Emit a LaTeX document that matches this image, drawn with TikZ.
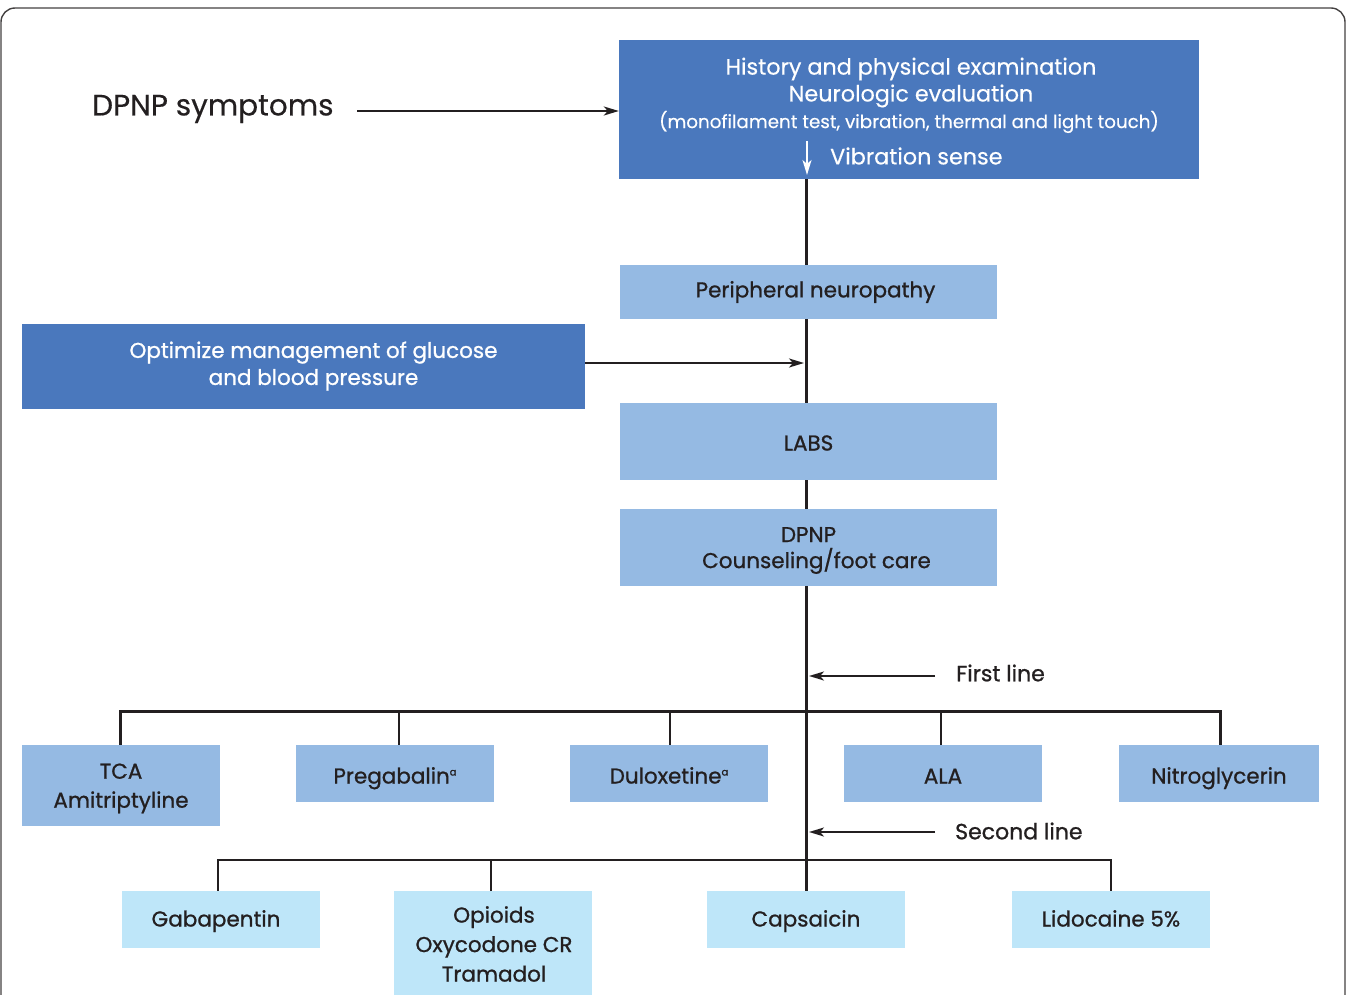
\documentclass[tikz,border=0pt]{standalone}
\usepackage{fontspec}
\setmainfont{Poppins}[FakeBold=0.35]
\newfontfamily\medfont{Poppins}[FakeBold=0.9]
\usetikzlibrary{arrows.meta}
\definecolor{dblue}{HTML}{4A78BD}
\definecolor{mblue}{HTML}{95BAE3}
\definecolor{lblue}{HTML}{BEE6F9}
\definecolor{ink}{HTML}{231F20}
\newcommand{\fs}[2]{\fontsize{#1}{#2}\selectfont}
\newcommand{\supa}{\raisebox{8pt}[0pt][0pt]{\fs{10}{10}a}}
\newcommand{\lowr}{\rule{0pt}{21pt}}
\begin{document}
\begin{tikzpicture}[x=1pt,y=-1pt,
  dbox/.style={fill=dblue, text=white, inner sep=0pt, align=center},
  mbox/.style={fill=mblue, text=ink, inner sep=0pt, align=center, font=\medfont\fs{21.5}{29}},
  lbox/.style={fill=lblue, text=ink, inner sep=0pt, align=center, font=\medfont\fs{21.5}{29}},
  rowbox/.style={minimum width=198, minimum height=57},
  rowone/.style={text height=20pt, text depth=0pt},
  rowtwo/.style={text height=14pt, text depth=0pt},
  plain/.style={text=ink, inner sep=0pt},
  mainline/.style={draw=ink, line width=3pt},
  branch/.style={draw=ink, line width=2.4pt},
  arr/.style={draw=ink, line width=2pt, -{Stealth[length=15pt,width=9pt,inset=4pt]}},
  warr/.style={draw=white, line width=2pt, -{Stealth[length=15pt,width=9pt,inset=4pt]}}
]
\useasboundingbox (0,0) rectangle (1350,995);
\clip (0,0) rectangle (1350,995);
\fill[white] (0,0) rectangle (1350,995);
% frame
\draw[draw=ink!85, line width=1.4pt, rounded corners=14pt] (1,1010) -- (1,8) -- (1345,8) -- (1345,1010);

% top box
\node[dbox, minimum width=580, minimum height=139] (hist) at (909,109.5) {};
\node[plain, text=white, font=\fs{22.3}{27}] (h1) at (911,69) {History and physical examination};
\node[plain, text=white, font=\fs{22.3}{27}] (h2) at (911,96) {Neurologic evaluation};
\node[plain, text=white, font=\fs{18.3}{20}] (h3) at (909,122) {(monofilament test, vibration, thermal and light touch)};
\node[plain, text=white, font=\fs{22.3}{27}, anchor=west] (vs) at (830,156) {Vibration sense};
\coordinate (va) at (807,141);
\coordinate (vb) at (807,175);
\draw[warr] (va) -- (vb);

\node[plain, font=\fs{29.5}{34}, anchor=west] (sym) at (92,109) {DPNP symptoms};

% middle boxes
\node[mbox, minimum width=377, minimum height=54] (pn) at (808.5,292) {\hspace*{14pt}Peripheral neuropathy};
\node[dbox, minimum width=563, minimum height=85, font=\medfont\fs{21.5}{27}] (opt) at (303.5,366) {\hspace*{20pt}Optimize management of glucose\\\hspace*{20pt}and blood pressure};
\node[mbox, minimum width=377, minimum height=77, text height=18pt, text depth=0pt] (labs) at (808.5,441.5) {LABS};
\node[mbox, minimum width=377, minimum height=77, font=\medfont\fs{21.5}{26}] (dpnp) at (808.5,547.5) {\lowr DPNP\\\hspace*{16pt}Counseling/foot care};

% first line row
\node[mbox, rowbox, minimum height=81] (tca) at (121,785.5) {\lowr TCA\\Amitriptyline};
\node[mbox, rowbox, rowone] (preg) at (395,773.5) {Pregabalin\supa};
\node[mbox, rowbox, rowone] (dulo) at (669,773.5) {Duloxetine\supa};
\node[mbox, rowbox, rowone] (ala) at (943,773.5) {ALA};
\node[mbox, rowbox, rowone, minimum width=200] (nitro) at (1219,773.5) {Nitroglycerin};

% second line row
\node[lbox, rowbox, rowtwo] (gaba) at (221,919.5) {\hspace*{-10pt}Gabapentin};
\node[lbox, rowbox, minimum height=110, anchor=north] (opio) at (493,891) {};
\node[plain, align=center, font=\medfont\fs{21.5}{29.5}, anchor=north] (opiot) at (494,906) {Opioids\\Oxycodone CR\\Tramadol};
\node[lbox, rowbox, rowtwo] (caps) at (806,919.5) {Capsaicin};
\node[lbox, rowbox, rowtwo] (lido) at (1111,919.5) {Lidocaine 5\%};

% labels
\node[plain, font=\medfont\fs{22}{26}, anchor=west] (fl) at (956,673) {First line};
\node[plain, font=\medfont\fs{22}{26}, anchor=west] (sl) at (955,831) {Second line};

% bus coordinates
\coordinate (b1) at (807,711);
\coordinate (b2) at (807,860);

% main vertical line
\draw[mainline] (caps.north |- hist.south) -- (caps.north |- pn.north);
\draw[mainline] (caps.north |- pn.south) -- (caps.north |- labs.north);
\draw[mainline] (caps.north |- labs.south) -- (caps.north |- dpnp.north);
\draw[mainline] (caps.north |- dpnp.south) -- (caps.north);

% first line bus
\draw[mainline] ([xshift=-1pt]tca.north) |- (b1) -| ([xshift=1pt]nitro.north);
\draw[branch] ([xshift=4pt]preg.north) -- ([xshift=4pt]preg.north |- b1);
\draw[branch] ([xshift=1pt]dulo.north) -- ([xshift=1pt]dulo.north |- b1);
\draw[branch] ([xshift=-2pt]ala.north) -- ([xshift=-2pt]ala.north |- b1);

% second line bus
\draw[branch] ([xshift=-3pt]gaba.north) |- (b2) -| (lido.north);
\draw[branch] ([xshift=-2pt]opio.north) -- ([xshift=-2pt]opio.north |- b2);

% arrows
\coordinate (s0) at (357,111);
\draw[arr] (s0) -- (hist.west |- s0);
\coordinate (o0) at (585,363);
\draw[arr] (o0) -- ([xshift=-2pt]caps.north |- o0);
\coordinate (f0) at (935,676);
\draw[arr] (f0) -- ([xshift=2pt]b1 |- f0);
\coordinate (q0) at (935,832);
\draw[arr] (q0) -- ([xshift=2pt]b2 |- q0);
\end{tikzpicture}
\end{document}
